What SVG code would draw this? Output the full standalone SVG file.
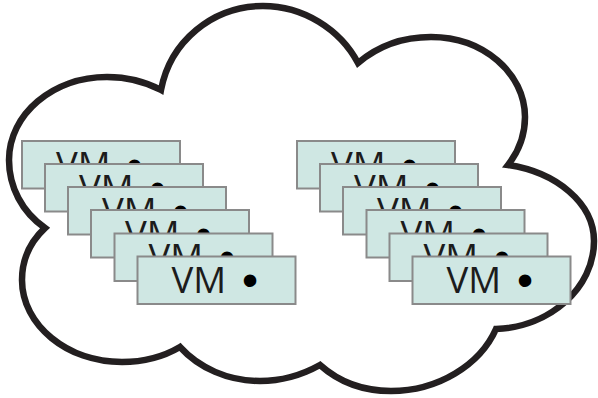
<svg xmlns="http://www.w3.org/2000/svg" width="598" height="398" viewBox="0 0 598 398">
<defs><style>
.cloud{fill:#fff;stroke:#231f20;stroke-width:6.500;stroke-linejoin:miter;stroke-miterlimit:10}
.b{fill:#cfe7e3;stroke:#8a8a8a;stroke-width:2}
.t{font-family:"Open Sans",sans-serif;font-size:36.500px;font-weight:400;fill:#1c1c1c}
.d{font-family:"Liberation Sans",sans-serif;font-size:46px;fill:#000}
</style>
<g id="vm"><rect class="b" x="0" y="0" width="158" height="47.500"/><text class="t" x="34" y="36.500" xml:space="preserve">VM<tspan class="d" dx="16" dy="3">•</tspan></text></g>
</defs>
<rect width="598" height="398" fill="#fff"/>
<g id="cloud"><path class="cloud" d="M45 228C22 212 9 187 9 160C9 114 53 77 107 77C126 77 144 81 161 90C170 42 212 6 263 6C303 6 340 29 358 63C378 46 404 37 431 37C483 37 525 73 525 117C525 135 519 151 508 165C556 172 594 203 594 241C594 288 550 327 496 329C480 365 438 391 391 391C364 391 339 382 320 365C302 375 282 381 260 381C228 381 199 368 180 347C163 357 143 362 122 362C67 362 22 325 22 280C22 260 30 242 45 228Z"/></g>
<g id="connectors"></g>
<g id="vm-a1"><use href="#vm" x="22" y="141"/></g>
<g id="vm-a2"><use href="#vm" x="45" y="164"/></g>
<g id="vm-a3"><use href="#vm" x="68" y="187"/></g>
<g id="vm-a4"><use href="#vm" x="91" y="210"/></g>
<g id="vm-a5"><use href="#vm" x="114.500" y="233.500"/></g>
<g id="vm-a6"><use href="#vm" x="137.500" y="256.500"/></g>
<g id="vm-b1"><use href="#vm" x="297" y="141"/></g>
<g id="vm-b2"><use href="#vm" x="320" y="164"/></g>
<g id="vm-b3"><use href="#vm" x="343" y="187"/></g>
<g id="vm-b4"><use href="#vm" x="366.500" y="210"/></g>
<g id="vm-b5"><use href="#vm" x="389.500" y="233.500"/></g>
<g id="vm-b6"><use href="#vm" x="412.500" y="256.500"/></g>
</svg>
